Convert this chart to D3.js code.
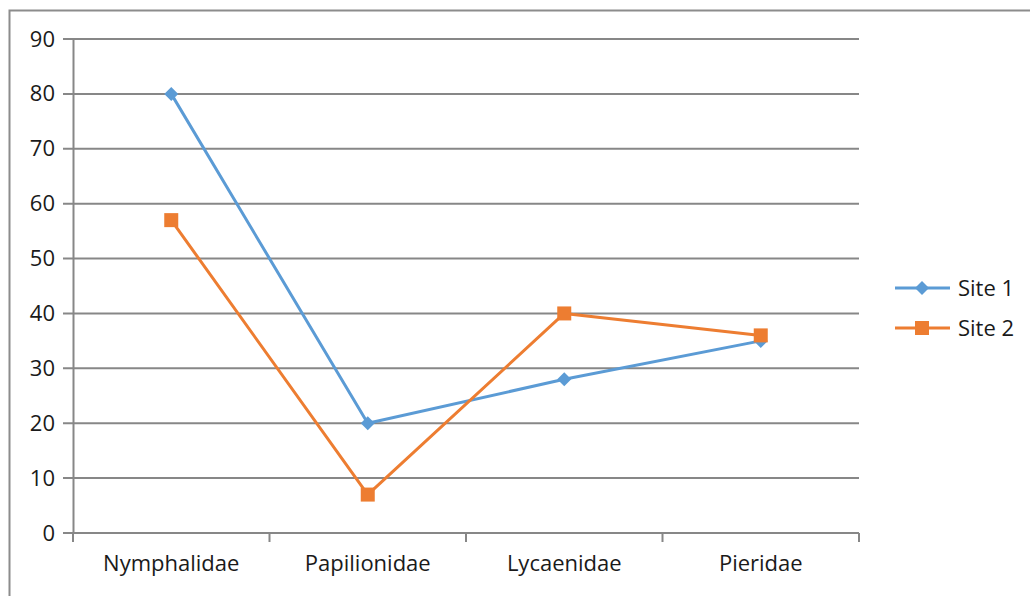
<!DOCTYPE html>
<html>
<head>
<meta charset="utf-8">
<script src="https://cdn.jsdelivr.net/npm/d3@7"></script>
<style>
  html, body { margin: 0; padding: 0; background: #fff; }
  svg { display: block; }
  text { font-family: "Open Sans", sans-serif; fill: #1a1a1a; }
</style>
</head>
<body>
<svg id="chart" width="1030" height="596"></svg>
<script>
// Butterfly family counts per site
const families = ["Nymphalidae", "Papilionidae", "Lycaenidae", "Pieridae"];
const site1 = [80, 20, 28, 35];
const site2 = [57, 7, 40, 36];
const yTicks = [0, 10, 20, 30, 40, 50, 60, 70, 80, 90];
const seriesNames = ["Site 1", "Site 2"];

const colors = { "Site 1": "#5b9bd5", "Site 2": "#ed7d31" };
const series = [
  { name: seriesNames[0], values: site1, shape: "diamond" },
  { name: seriesNames[1], values: site2, shape: "square" }
];

const FONT = "'Open Sans', sans-serif";
const FS = "22px";

const svg = d3.select("#chart");
const margin = { left: 73, right: 171, top: 39, bottom: 63 };
const W = 1030, H = 596;

// Chart frame
svg.append("rect")
  .attr("x", 9.5).attr("y", 10.5)
  .attr("width", 1040).attr("height", 600)
  .attr("fill", "none").attr("stroke", "#8c8c8c").attr("stroke-width", 2);

const x = d3.scaleBand().domain(families)
  .range([margin.left, W - margin.right]);
const y = d3.scaleLinear().domain([0, 90])
  .range([H - margin.bottom, margin.top]);

// Horizontal gridlines
svg.append("g").selectAll("line").data(yTicks).join("line")
  .attr("x1", margin.left - 10).attr("x2", W - margin.right)
  .attr("y1", d => y(d)).attr("y2", d => y(d))
  .attr("stroke", "#878787").attr("stroke-width", 2);

// Y axis
const yAxis = svg.append("g")
  .attr("transform", `translate(${margin.left},0)`)
  .call(d3.axisLeft(y).tickValues(yTicks).tickSize(0).tickPadding(18));
yAxis.select(".domain").attr("stroke", "#878787").attr("stroke-width", 2);
yAxis.selectAll("text").style("font-size", FS)
  .style("font-family", FONT).attr("fill", "#1a1a1a");

// X axis with ticks at category boundaries
const xAxis = svg.append("g")
  .attr("transform", `translate(0,${y(0)})`)
  .call(d3.axisBottom(x).tickSize(0).tickPadding(22));
xAxis.select(".domain").remove();
xAxis.selectAll("text").style("font-size", FS)
  .style("font-family", FONT).attr("fill", "#1a1a1a");
const bounds = families.map(f => x(f)).concat([x(families[families.length - 1]) + x.bandwidth()]);
svg.append("line")
  .attr("x1", margin.left).attr("x2", W - margin.right)
  .attr("y1", y(0)).attr("y2", y(0))
  .attr("stroke", "#878787").attr("stroke-width", 2);
svg.append("g").selectAll("line").data(bounds).join("line")
  .attr("x1", d => d).attr("x2", d => d)
  .attr("y1", y(0)).attr("y2", y(0) + 9)
  .attr("stroke", "#878787").attr("stroke-width", 2);

const cx = f => x(f) + x.bandwidth() / 2;
const line = d3.line().x(d => d[0]).y(d => d[1]);

function marker(g, shape, px, py, color) {
  if (shape === "diamond") {
    g.append("path")
      .attr("d", `M${px},${py - 7}L${px + 7},${py}L${px},${py + 7}L${px - 7},${py}Z`)
      .attr("fill", color);
  } else {
    g.append("rect")
      .attr("x", px - 7).attr("y", py - 7).attr("width", 14).attr("height", 14)
      .attr("fill", color);
  }
}

series.forEach(s => {
  const pts = families.map((f, i) => [cx(f), y(s.values[i])]);
  const g = svg.append("g");
  g.append("path").attr("d", line(pts))
    .attr("fill", "none").attr("stroke", colors[s.name]).attr("stroke-width", 3)
    .attr("stroke-linejoin", "round");
  pts.forEach(p => marker(g, s.shape, p[0], p[1], colors[s.name]));
});

// Legend
const legend = svg.append("g");
series.forEach((s, i) => {
  const ly = 288 + i * 40;
  legend.append("line")
    .attr("x1", 895).attr("x2", 950).attr("y1", ly).attr("y2", ly)
    .attr("stroke", colors[s.name]).attr("stroke-width", 3);
  marker(legend, s.shape, 922, ly, colors[s.name]);
  legend.append("text").attr("x", 958).attr("y", ly)
    .attr("dy", "0.35em").style("font-size", FS).style("font-family", FONT).text(s.name);
});
</script>
</body>
</html>
